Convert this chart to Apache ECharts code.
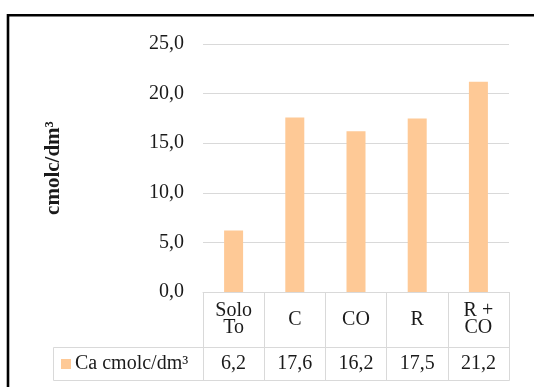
<!DOCTYPE html>
<html>
<head>
<meta charset="utf-8">
<script src="https://cdn.jsdelivr.net/npm/echarts@6/dist/echarts.min.js"></script>
<style>
  html, body { margin: 0; padding: 0; background: #fff; }
  #chart { width: 534px; height: 387px; }
</style>
</head>
<body>
<div id="chart"></div>
<script>
// Calcium content per treatment (cmolc/dm³)
const categories = ['Solo\nTo', 'C', 'CO', 'R', 'R +\nCO'];
const values = [6.2, 17.6, 16.2, 17.5, 21.2];
const seriesName = 'Ca cmolc/dm³';
const yTicks = { min: 0, max: 25, interval: 5 };

const SERIF = "'Liberation Serif', 'Times New Roman', serif";
const TXT = '#1a1a1a';
const GRIDC = '#d9d9d9';
const BAR = '#fec996';

const fmt = v => v.toFixed(1).replace('.', ',');

// table geometry (below the plot)
const G = { left: 203, right: 25, top: 44, height: 248 };
const rowH1 = 55;   // category row
const rowH2 = 33;   // value row
const plotBottom = G.top + G.height;
const plotRight = 534 - G.right;
const legendCellLeft = 53;

const chart = echarts.init(document.getElementById('chart'), null, { renderer: 'canvas' });

chart.setOption({
  animation: false,
  backgroundColor: '#fff',
  textStyle: { fontFamily: SERIF },
  grid: { left: G.left, right: G.right, top: G.top, height: G.height },
  legend: {
    show: true,
    left: 61,
    top: plotBottom + rowH1 + 7,
    icon: 'rect',
    itemWidth: 10,
    itemHeight: 10,
    itemGap: 4,
    padding: 0,
    textStyle: { fontFamily: SERIF, fontSize: 20, color: TXT, padding: [0, 0, 0, -1] },
    data: [seriesName]
  },
  xAxis: [
    {
      type: 'category',
      data: categories,
      position: 'bottom',
      axisLine: { show: true, lineStyle: { color: GRIDC, width: 1 } },
      axisTick: { show: true, length: rowH1 + rowH2, lineStyle: { color: GRIDC } },
      axisLabel: {
        fontFamily: SERIF, fontSize: 20, color: TXT, lineHeight: 17,
        verticalAlign: 'middle', margin: rowH1 / 2, interval: 0
      }
    },
    {
      type: 'category',
      data: categories,
      position: 'bottom',
      offset: rowH1,
      axisLine: { show: true, lineStyle: { color: GRIDC, width: 1 } },
      axisTick: { show: false },
      axisLabel: {
        fontFamily: SERIF, fontSize: 20, color: TXT,
        verticalAlign: 'middle', margin: rowH2 / 2, interval: 0,
        formatter: (v, i) => fmt(values[i])
      }
    }
  ],
  yAxis: {
    type: 'value',
    min: yTicks.min,
    max: yTicks.max,
    interval: yTicks.interval,
    name: 'cmolc/dm³',
    nameLocation: 'middle',
    nameRotate: 90,
    nameGap: 139,
    nameTextStyle: { fontFamily: SERIF, fontSize: 21, fontWeight: 'bold', color: TXT },
    axisLine: { show: false },
    axisTick: { show: false },
    axisLabel: { fontFamily: SERIF, fontSize: 20, color: TXT, margin: 19, formatter: v => fmt(v) },
    splitLine: { show: true, lineStyle: { color: GRIDC, width: 1 } }
  },
  series: [{
    name: seriesName,
    type: 'bar',
    data: values,
    barWidth: 19,
    itemStyle: { color: BAR },
    emphasis: { disabled: true }
  }],
  graphic: [
    // legend cell and bottom line of the data table
    {
      type: 'rect',
      silent: true,
      shape: { x: legendCellLeft + 0.5, y: plotBottom + rowH1 + 0.5, width: plotRight - legendCellLeft, height: rowH2 },
      style: { fill: null, stroke: GRIDC, lineWidth: 1 },
      z: 0
    },
    // outer frame
    {
      type: 'rect',
      silent: true,
      shape: { x: 8, y: 15.2, width: 700, height: 500 },
      style: { fill: null, stroke: '#000', lineWidth: 2.6 },
      z: 10
    }
  ]
});
</script>
</body>
</html>
